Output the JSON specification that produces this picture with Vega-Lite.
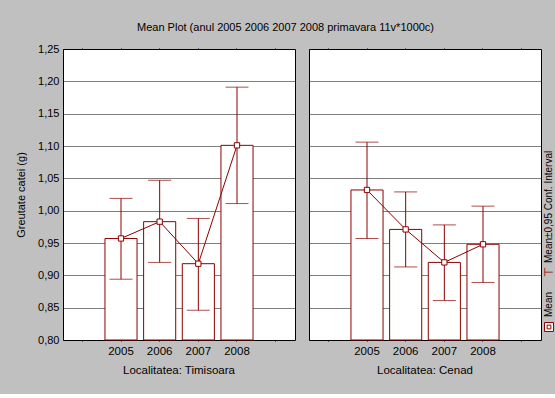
{
  "$schema": "https://vega.github.io/schema/vega-lite/v6.json",
  "background": "#C0C0C0",
  "padding": {"left": 15, "top": 22, "right": 0, "bottom": 18},
  "title": {"text": "Mean Plot (anul 2005 2006 2007 2008 primavara 11v*1000c)", "fontSize": 11, "font": "Liberation Sans", "fontWeight": "normal", "color": "black", "anchor": "middle", "offset": 10},
  "datasets": {
    "means": [
      {"loc": "Timisoara", "year": "2005", "mean": 0.957, "lo": 0.894, "hi": 1.019},
      {"loc": "Timisoara", "year": "2006", "mean": 0.983, "lo": 0.920, "hi": 1.047},
      {"loc": "Timisoara", "year": "2007", "mean": 0.918, "lo": 0.846, "hi": 0.988},
      {"loc": "Timisoara", "year": "2008", "mean": 1.101, "lo": 1.011, "hi": 1.191},
      {"loc": "Cenad", "year": "2005", "mean": 1.032, "lo": 0.957, "hi": 1.106},
      {"loc": "Cenad", "year": "2006", "mean": 0.971, "lo": 0.913, "hi": 1.029},
      {"loc": "Cenad", "year": "2007", "mean": 0.920, "lo": 0.861, "hi": 0.978},
      {"loc": "Cenad", "year": "2008", "mean": 0.948, "lo": 0.889, "hi": 1.007}
    ],
    "legend": [
      {"item": "ci", "label": "Mean±0,95 Conf. Interval"},
      {"item": "mean", "label": "Mean"}
    ]
  },
  "spacing": 0,
  "hconcat": [
    {
      "data": {"name": "means"},
      "spacing": 12,
      "facet": {
        "column": {
          "field": "loc", "type": "nominal", "sort": ["Timisoara", "Cenad"],
          "header": {"title": null, "labelOrient": "bottom", "labelExpr": "'Localitatea: ' + datum.value", "labelFontSize": 11.5, "labelFont": "Liberation Sans", "labelColor": "black", "labelPadding": 8}
        }
      },
      "spec": {
        "width": 232,
        "height": 291,
        "resolve": {"axis": {"x": "independent"}},
        "layer": [
          {
            "mark": {"type": "bar", "fill": "white", "stroke": "#8B0000", "strokeWidth": 1},
            "encoding": {
              "x": {
                "field": "year", "type": "ordinal",
                "scale": {"domain": ["e1", "2005", "2006", "2007", "2008", "e2"], "paddingInner": 0.17, "paddingOuter": 0.085},
                "axis": {"title": null, "labelAngle": 0, "labelExpr": "datum.value[0] == 'e' ? '' : datum.value", "labelFontSize": 11.5, "labelFont": "Liberation Sans", "labelColor": "black", "labelPadding": 8, "tickSize": -4, "tickColor": "black", "domain": false}
              },
              "y": {
                "field": "mean", "type": "quantitative",
                "scale": {"domain": [0.8, 1.25], "nice": false, "zero": false},
                "axis": {"title": "Greutate catei (g)", "values": [0.8, 0.85, 0.9, 0.95, 1.0, 1.05, 1.1, 1.15, 1.2, 1.25]}
              },
              "y2": {"datum": 0.8}
            }
          },
          {
            "mark": {"type": "rule", "color": "#8B0000", "strokeWidth": 1},
            "encoding": {
              "x": {"field": "year", "type": "ordinal", "axis": {"orient": "top", "title": null, "labels": false, "tickSize": -4, "tickColor": "black", "domain": false}},
              "y": {"field": "lo", "type": "quantitative", "axis": {"title": "Greutate catei (g)", "values": [0.8, 0.85, 0.9, 0.95, 1.0, 1.05, 1.1, 1.15, 1.2, 1.25]}}, "y2": {"field": "hi"}}
          },
          {
            "mark": {"type": "tick", "color": "#8B0000", "thickness": 1, "size": 23, "orient": "horizontal"},
            "encoding": {"x": {"field": "year", "type": "ordinal", "axis": null}, "y": {"field": "lo", "type": "quantitative", "axis": {"title": "Greutate catei (g)", "values": [0.8, 0.85, 0.9, 0.95, 1.0, 1.05, 1.1, 1.15, 1.2, 1.25]}}}
          },
          {
            "mark": {"type": "tick", "color": "#8B0000", "thickness": 1, "size": 23, "orient": "horizontal"},
            "encoding": {"x": {"field": "year", "type": "ordinal", "axis": null}, "y": {"field": "hi", "type": "quantitative", "axis": {"title": "Greutate catei (g)", "values": [0.8, 0.85, 0.9, 0.95, 1.0, 1.05, 1.1, 1.15, 1.2, 1.25]}}}
          },
          {
            "mark": {"type": "line", "color": "#8B0000", "strokeWidth": 1},
            "encoding": {"x": {"field": "year", "type": "ordinal", "axis": null}, "y": {"field": "mean", "type": "quantitative", "axis": {"title": "Greutate catei (g)", "values": [0.8, 0.85, 0.9, 0.95, 1.0, 1.05, 1.1, 1.15, 1.2, 1.25]}}}
          },
          {
            "mark": {"type": "point", "shape": "square", "size": 28, "filled": true, "fill": "white", "stroke": "#8B0000", "strokeWidth": 1, "opacity": 1},
            "encoding": {"x": {"field": "year", "type": "ordinal", "axis": null}, "y": {"field": "mean", "type": "quantitative", "axis": {"title": "Greutate catei (g)", "values": [0.8, 0.85, 0.9, 0.95, 1.0, 1.05, 1.1, 1.15, 1.2, 1.25]}}}
          }
        ]
      }
    },
    {
      "data": {"name": "legend"},
      "width": 8,
      "height": 291,
      "view": {"stroke": null, "fill": null},
      "encoding": {
        "y": {"field": "item", "type": "ordinal", "scale": {"type": "point", "domain": ["ci", "mean"], "range": [214, 268], "padding": 0}, "axis": null}
      },
      "layer": [
        {
          "mark": {"type": "text", "angle": 270, "align": "left", "baseline": "middle", "font": "Liberation Sans", "fontSize": 10, "color": "black"},
          "encoding": {"text": {"field": "label"}}
        },
        {
          "transform": [{"filter": "datum.item == 'mean'"}],
          "mark": {"type": "point", "shape": "square", "size": 80, "filled": true, "fill": "white", "stroke": "#8B0000", "strokeWidth": 1, "opacity": 1, "yOffset": 10}
        },
        {
          "transform": [{"filter": "datum.item == 'mean'"}],
          "mark": {"type": "point", "shape": "square", "size": 14, "filled": true, "fill": "white", "stroke": "#8B0000", "strokeWidth": 1, "opacity": 1, "yOffset": 10}
        },
        {
          "transform": [{"filter": "datum.item == 'ci'"}],
          "mark": {"type": "text", "text": "⊤", "angle": 270, "align": "center", "baseline": "middle", "font": "DejaVu Sans", "fontSize": 12, "color": "#8B0000", "yOffset": 9}
        }
      ]
    }
  ],
  "config": {
    "view": {"stroke": "black", "strokeWidth": 1, "fill": "white"},
    "font": "Liberation Sans",
    "axisY": {"titleFont": "Liberation Sans", "titleFontSize": 11, "titleFontWeight": "normal", "titleColor": "black", "titlePadding": 11, "labelOverlap": false, "labelExpr": "replace(format(datum.value, '.2f'), '.', ',')", "labelFont": "Liberation Sans", "labelFontSize": 11, "labelColor": "black", "labelPadding": 3, "ticks": false, "tickSize": 0, "domain": false, "grid": true, "gridColor": "black", "gridDash": [1, 1], "gridOpacity": 1}
  }
}
